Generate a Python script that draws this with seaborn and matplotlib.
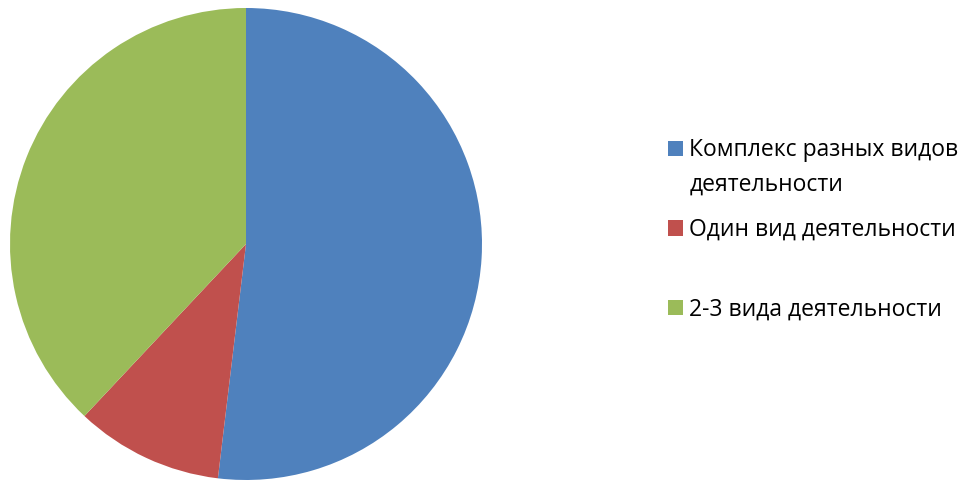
import matplotlib
matplotlib.use("Agg")
import matplotlib.pyplot as plt
import seaborn as sns

labels = ["Комплекс разных видов", "Один вид деятельности", "2-3 вида деятельности"]
label_cont = "деятельности"  # second line of the first legend entry
values = [51.9, 10.1, 38.0]
colors = ["#4F81BD", "#C0504D", "#9BBB59"]

sns.set_style("white")
plt.rcParams["font.family"] = ["Open Sans", "DejaVu Sans"]
plt.rcParams["text.color"] = "black"

fig = plt.figure(figsize=(9.79, 4.8), dpi=100)
ax = fig.add_axes([10 / 979, 0 / 480, 472 / 979, 472 / 480])
wedges, _ = ax.pie(values, colors=colors, startangle=90, counterclock=False,
                   wedgeprops=dict(linewidth=0))
ax.set_xlim(-1, 1)
ax.set_ylim(-1, 1)
ax.set_aspect("equal")
ax.axis("off")

fs = 16.5
fig.legend(wedges, labels, loc="center left", bbox_to_anchor=(668 / 979, 1 - 230 / 480),
           frameon=False, fontsize=fs, handlelength=0.655, handleheight=0.655,
           handletextpad=0.25, labelspacing=2.43, borderaxespad=0, borderpad=0)
fig.text(690 / 979, 1 - 191 / 480, label_cont, fontsize=fs, ha="left", va="baseline")

fig.savefig("out.png", dpi=100)
